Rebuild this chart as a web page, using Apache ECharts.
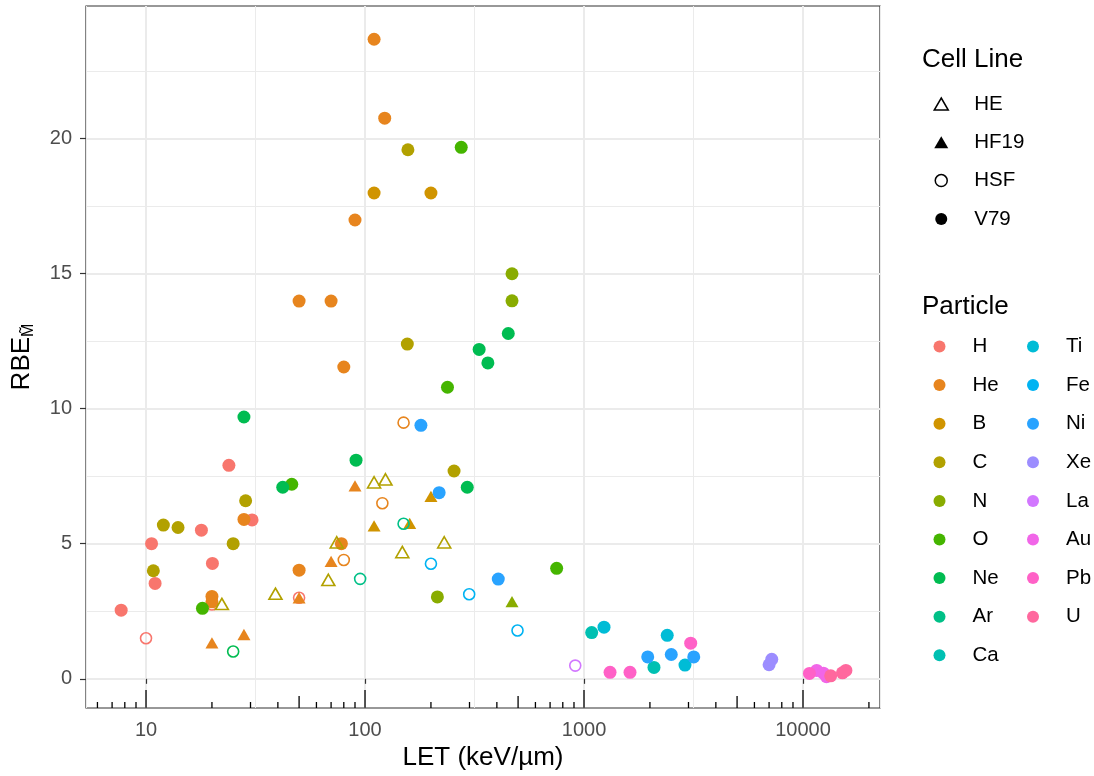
<!DOCTYPE html>
<html><head><meta charset="utf-8">
<script src="https://cdn.jsdelivr.net/npm/echarts@6/dist/echarts.min.js"></script>
<style>html,body{margin:0;padding:0;background:#fff}#c{width:1094px;height:776px}</style>
</head><body><div id="c"></div>
<script>
// ---- data ----
const particles = ['H','He','B','C','N','O','Ne','Ar','Ca','Ti','Fe','Ni','Xe','La','Au','Pb','U'];
const cellLines = ['HE','HF19','HSF','V79'];
const xTickLabels = [10, 100, 1000, 10000];
const yTickLabels = [0, 5, 10, 15, 20];

// [LET (keV/um), RBE, particle]
const HE = [
  [22.2,2.77,'C'],[39,3.15,'C'],[68,3.66,'C'],[74.3,5.05,'C'],
  [110,7.27,'C'],[124,7.38,'C'],[148,4.69,'C'],[230,5.05,'C']
];
const HF19 = [
  [20,1.33,'He'],[28,1.64,'He'],[50,3.0,'He'],[70,4.35,'He'],[90,7.14,'He'],
  [110,5.66,'B'],[160,5.75,'B'],[200,6.75,'B'],[469,2.86,'N']
];
const HSF = [
  [10,1.5,'H'],[20,2.75,'H'],[50,3.0,'H'],
  [80,4.4,'He'],[120,6.5,'He'],[150,9.48,'He'],
  [25,1.01,'Ne'],[95,3.7,'Ar'],[150,5.74,'Ar'],
  [200,4.26,'Fe'],[299,3.13,'Fe'],[497,1.79,'Fe'],[912,0.49,'La']
];
const V79 = [
  [7.7,2.54,'H'],[10.6,5.0,'H'],[11.0,3.53,'H'],[17.9,5.5,'H'],[20.1,4.27,'H'],[23.9,7.9,'H'],[30.5,5.88,'H'],
  [20,3.05,'He'],[20,2.85,'He'],[28,5.9,'He'],[50,4.02,'He'],[50,13.98,'He'],[70,13.98,'He'],[78,5.0,'He'],
  [80,11.54,'He'],[90,16.98,'He'],[110,23.67,'He'],[123,20.75,'He'],
  [110,17.98,'B'],[200,17.98,'B'],
  [10.8,4.0,'C'],[12.0,5.69,'C'],[14.0,5.6,'C'],[25,5.0,'C'],[28.5,6.59,'C'],[157,19.58,'C'],[156,12.39,'C'],[255,7.69,'C'],
  [214,3.03,'N'],[469,14.99,'N'],[469,13.99,'N'],
  [18.1,2.61,'O'],[46.3,7.2,'O'],[238,10.79,'O'],[275,19.67,'O'],[750,4.09,'O'],
  [28,9.69,'Ne'],[42.1,7.09,'Ne'],[91,8.09,'Ne'],[293,7.09,'Ne'],[332,12.19,'Ne'],[364,11.69,'Ne'],[451,12.78,'Ne'],
  [1084,1.71,'Ca'],[2087,0.42,'Ca'],
  [1234,1.91,'Ti'],[2399,1.61,'Ti'],[2891,0.51,'Ti'],
  [180,9.38,'Ni'],[218,6.89,'Ni'],[406,3.69,'Ni'],[1954,0.81,'Ni'],[2503,0.9,'Ni'],[3170,0.81,'Ni'],
  [7000,0.52,'Xe'],[7200,0.72,'Xe'],
  [11550,0.31,'Au'],[12400,0.21,'Au'],[12800,0.08,'Au'],
  [1315,0.24,'Pb'],[1622,0.24,'Pb'],[3070,1.32,'Pb'],[10700,0.2,'Pb'],
  [13380,0.11,'U'],[15140,0.22,'U'],[15700,0.31,'U']
];
const cellData = {HE, HF19, HSF, V79};

// ---- styling ----
const FONT = 'Liberation Sans, Arial, Helvetica, sans-serif';
const xMin = 5.32, xMax = 22470, yMin = -1.08, yMax = 24.9;

function hcl(h, c, l) {
  const WU = 0.1978398, WV = 0.4683363;
  const hr = h * Math.PI / 180;
  const U = c * Math.cos(hr), V = c * Math.sin(hr);
  const Y = 100 * (l > 7.999592 ? Math.pow((l + 16) / 116, 3) : l / 903.3);
  const u = U / (13 * l) + WU, v = V / (13 * l) + WV;
  const X = 9 * Y * u / (4 * v);
  const Z = -X / 3 - 5 * Y + 3 * Y / v;
  const g = t => { t = t > 0.00304 ? 1.055 * Math.pow(t, 1 / 2.4) - 0.055 : 12.92 * t; return Math.round(255 * Math.min(1, Math.max(0, t))); };
  const r = g((3.240479 * X - 1.537150 * Y - 0.498535 * Z) / 100);
  const gg = g((-0.969256 * X + 1.875992 * Y + 0.041556 * Z) / 100);
  const b = g((0.055648 * X - 0.204043 * Y + 1.057311 * Z) / 100);
  return 'rgb(' + r + ',' + gg + ',' + b + ')';
}
const colorOf = {};
particles.forEach((p, i) => { colorOf[p] = hcl(15 + 360 * i / particles.length, 100, 65); });

const shapeOf = {
  HE:   {symbol: 'triangle', size: [13, 11.3], open: true},
  HF19: {symbol: 'triangle', size: [13, 11.3], open: false},
  HSF:  {symbol: 'circle', size: 11, open: true},
  V79:  {symbol: 'circle', size: 13, open: false}
};

const series = [];
particles.forEach(p => {
  const data = [];
  cellLines.forEach(cl => {
    const sh = shapeOf[cl];
    cellData[cl].filter(d => d[2] === p).forEach(d => {
      data.push({
        value: [d[0], d[1]],
        symbol: sh.symbol,
        symbolSize: sh.size,
        itemStyle: sh.open
          ? {color: 'rgba(255,255,255,0)', borderColor: colorOf[p], borderWidth: 1.6, opacity: 1}
          : {color: colorOf[p], borderWidth: 0, opacity: 1}
      });
    });
  });
  series.push({type: 'scatter', name: p, data, itemStyle: {color: colorOf[p], opacity: 1}, z: 5});
});
// empty series that carry the Cell Line legend
cellLines.forEach(cl => series.push({type: 'scatter', name: cl, data: [], itemStyle: {color: '#000', opacity: 1}}));

// annotation_logticks along the bottom
const logTicks = [];
for (let e = 0; e <= 4; e++) for (let m = 1; m <= 9; m++) {
  const v = m * Math.pow(10, e);
  if (v >= xMin && v <= xMax) logTicks.push([v, m === 1 ? 2 : (m === 5 ? 1 : 0)]);
}
series.push({
  type: 'custom', name: 'logticks', silent: true, z: 4,
  encode: {x: 0, y: 1},
  data: logTicks,
  renderItem: function (params, api) {
    const p = api.coord([api.value(0), yMin]);
    const len = [6, 12, 18][api.value(1)];
    return {type: 'line', shape: {x1: p[0], y1: p[1], x2: p[0], y2: p[1] - len},
            style: {stroke: '#000', lineWidth: 1.3}};
  }
});

const triPath = 'path://M7,0L14,12L0,12Z';
const legendText = {fontSize: 20.5, lineHeight: 20, color: '#000', fontFamily: FONT};
const titleStyle = {fontSize: 26, fontWeight: 'normal', color: '#000', fontFamily: FONT};

const option = {
  animation: false,
  backgroundColor: '#fff',
  textStyle: {fontFamily: FONT},
  title: [
    {text: 'Cell Line', left: 922, top: 46.5, padding: 0, textStyle: titleStyle},
    {text: 'Particle', left: 922, top: 293.5, padding: 0, textStyle: titleStyle}
  ],
  grid: {left: 86, right: 214, top: 6, bottom: 68, show: true, borderColor: '#333333', borderWidth: 1.2, backgroundColor: '#fff'},
  legend: [
    {orient: 'vertical', left: 933.5, top: 93.5, padding: 0, itemWidth: 56, itemHeight: 12, itemGap: 17.3,
     selectedMode: false, textStyle: legendText,
     data: [
       {name: 'HE', icon: triPath, itemStyle: {color: 'rgba(0,0,0,0)', borderColor: '#000', borderWidth: 1.5}},
       {name: 'HF19', icon: triPath, itemStyle: {color: '#000', borderWidth: 0}},
       {name: 'HSF', icon: 'circle', itemStyle: {color: 'rgba(0,0,0,0)', borderColor: '#000', borderWidth: 1.5}},
       {name: 'V79', icon: 'circle', itemStyle: {color: '#000', borderWidth: 0}}
     ]},
    {orient: 'vertical', left: 933.5, top: 336, padding: 0, itemWidth: 56, itemHeight: 12, itemGap: 17.6,
     selectedMode: false, textStyle: legendText,
     data: particles.slice(0, 9).map(p => ({name: p, icon: 'circle', itemStyle: {color: colorOf[p], borderWidth: 0}}))},
    {orient: 'vertical', left: 1027, top: 336, padding: 0, itemWidth: 56, itemHeight: 12, itemGap: 17.6,
     selectedMode: false, textStyle: legendText,
     data: particles.slice(9).map(p => ({name: p, icon: 'circle', itemStyle: {color: colorOf[p], borderWidth: 0}}))}
  ],
  xAxis: [
    {type: 'log', logBase: 10, min: xMin, max: xMax,
     name: 'LET (keV/\u00b5m)', nameLocation: 'middle', nameGap: 37,
     nameTextStyle: {fontSize: 26, color: '#000', fontFamily: FONT},
     axisLine: {show: false},
     axisTick: {show: true, length: 5, lineStyle: {color: '#333', width: 1.2}, customValues: xTickLabels},
     axisLabel: {fontSize: 20, color: '#4D4D4D', margin: 12,
                 customValues: xTickLabels, formatter: v => String(Math.round(v))},
     splitLine: {show: true, lineStyle: {color: '#EBEBEB', width: 2}}},
    {type: 'log', logBase: Math.sqrt(10), min: xMin, max: xMax, splitNumber: 10,
     axisLine: {show: false}, axisTick: {show: false}, axisLabel: {show: false},
     splitLine: {show: true, lineStyle: {color: '#EBEBEB', width: 1}}}
  ],
  yAxis: {
    type: 'value', min: yMin, max: yMax,
    name: '{a|RBE}{b|M\u0303}', nameLocation: 'middle', nameGap: 49,
    nameTextStyle: {color: '#000', fontFamily: FONT,
      rich: {a: {fontSize: 26, color: '#000', fontFamily: FONT},
             b: {fontSize: 16, color: '#000', fontFamily: FONT, padding: [14, 0, 0, 0], verticalAlign: 'bottom'}}},
    axisLine: {show: false},
    axisTick: {show: true, length: 6, lineStyle: {color: '#333', width: 1.2}, customValues: yTickLabels},
    axisLabel: {fontSize: 20, color: '#4D4D4D', margin: 14, customValues: yTickLabels},
    splitLine: {show: true, lineStyle: {color: '#EBEBEB', width: 2}},
    minorTick: {show: false, splitNumber: 2},
    minorSplitLine: {show: true, lineStyle: {color: '#EBEBEB', width: 1}}
  },
  series
};
const chart = echarts.init(document.getElementById('c'), null, {renderer: 'canvas'});
chart.setOption(option);
</script></body></html>
